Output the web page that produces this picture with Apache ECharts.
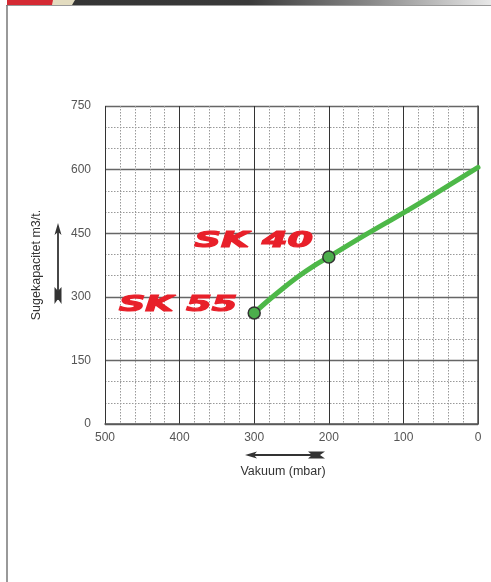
<!DOCTYPE html>
<html>
<head>
<meta charset="utf-8">
<script src="https://cdn.jsdelivr.net/npm/echarts@6/dist/echarts.min.js"></script>
<style>
html,body{margin:0;padding:0;background:#fff;}
#c{width:491px;height:582px;}
</style>
</head>
<body>
<div id="c"></div>
<script>
// Data
var vacuum   = [300, 280, 260, 240, 220, 200, 150, 100, 50, 0];
var capacity = [262, 293, 322, 349, 373, 394, 447, 498, 551, 605];
var markedVacuum = [300, 200];
var markedNames  = ['SK 55', 'SK 40'];
var xTicks = [0, 100, 200, 300, 400, 500];
var yTicks = [0, 150, 300, 450, 600, 750];
var xTitle = 'Vakuum (mbar)';
var yTitle = 'Sugekapacitet m3/t.';

var chart = echarts.init(document.getElementById('c'), null, {renderer: 'canvas'});

var lineData = vacuum.map(function (v, i) {
  var marked = markedVacuum.indexOf(v) >= 0;
  return {value: [v, capacity[i]], symbolSize: marked ? 12 : 0,
          itemStyle: marked ? {color: '#4cae4c', borderColor: '#333', borderWidth: 1.5} : undefined};
});

var axisLabelStyle = {color: '#555', fontSize: 12, fontFamily: 'Liberation Sans'};

var option = {
  animation: false,
  backgroundColor: '#fff',
  grid: {left: 105, right: 13, top: 106, bottom: 158},
  xAxis: {
    type: 'value', inverse: true, min: xTicks[0], max: xTicks[xTicks.length - 1], interval: 100,
    name: xTitle, nameLocation: 'middle', nameGap: 41,
    nameTextStyle: {color: '#333', fontSize: 12.5, fontFamily: 'Liberation Sans', padding: [0, 17, 0, 0]},
    axisLine: {show: true, lineStyle: {color: '#555', width: 1.5}},
    axisTick: {show: false},
    axisLabel: Object.assign({margin: 8}, axisLabelStyle),
    splitLine: {show: true, lineStyle: {color: '#333', width: 1}},
    minorTick: {show: false, splitNumber: 5},
    minorSplitLine: {show: true, lineStyle: {color: '#999', type: [1.5, 1.5], width: 1}}
  },
  yAxis: {
    type: 'value', min: yTicks[0], max: yTicks[yTicks.length - 1], interval: 150,
    name: yTitle, nameLocation: 'middle', nameGap: 62, nameRotate: 90,
    nameTextStyle: {color: '#333', fontSize: 12.5, fontFamily: 'Liberation Sans'},
    axisLine: {show: true, lineStyle: {color: '#555', width: 1.5}},
    axisTick: {show: false},
    axisLabel: Object.assign({margin: 14}, axisLabelStyle),
    splitLine: {show: true, lineStyle: {color: '#666', width: 1.3}},
    minorTick: {show: false, splitNumber: 3},
    minorSplitLine: {show: true, lineStyle: {color: '#999', type: [1.5, 1.5], width: 1}}
  },
  series: [{
    type: 'line',
    data: lineData,
    smooth: 0.4,
    symbol: 'circle',
    showAllSymbol: true,
    lineStyle: {color: '#4db848', width: 5, cap: 'round'},
    itemStyle: {color: '#4cae4c'},
    z: 5
  }]
};
chart.setOption(option);

function arrowGraphics() {
  var col = '#333';
  return [
    // vertical arrow (up)
    {type: 'line', shape: {x1: 58, y1: 230, x2: 58, y2: 300}, style: {stroke: col, lineWidth: 1.8}},
    {type: 'polygon', shape: {points: [[58, 223], [61.5, 235], [58, 232], [54.5, 235]]}, style: {fill: col}},
    {type: 'polygon', shape: {points: [[54.5, 287], [58, 291], [61.5, 287], [61.5, 304], [58, 299], [54.5, 304]]}, style: {fill: col}},
    // horizontal arrow (left)
    {type: 'line', shape: {x1: 250, y1: 455, x2: 320, y2: 455}, style: {stroke: col, lineWidth: 1.8}},
    {type: 'polygon', shape: {points: [[245, 455], [257, 451.5], [254, 455], [257, 458.5]]}, style: {fill: col}},
    {type: 'polygon', shape: {points: [[308, 451.5], [325, 451.5], [320, 455], [325, 458.5], [308, 458.5], [312, 455]]}, style: {fill: col}}
  ];
}

function frameGraphics() {
  return [
    {type: 'rect', shape: {x: 7, y: 0, width: 484, height: 5},
     style: {fill: new echarts.graphic.LinearGradient(0, 0, 1, 0, [
       {offset: 0, color: '#333'}, {offset: 0.5, color: '#3a3a3a'}, {offset: 0.75, color: '#888'}, {offset: 1, color: '#e8e8e8'}])}},
    {type: 'rect', shape: {x: 7, y: 0, width: 46, height: 5}, style: {fill: '#d42a33'}},
    {type: 'polygon', shape: {points: [[53, 0], [75, 0], [72, 5], [52, 5]]}, style: {fill: '#e3dcc0'}},
    {type: 'line', shape: {x1: 6, y1: 5.5, x2: 491, y2: 5.5}, style: {stroke: '#999', lineWidth: 1}},
    {type: 'line', shape: {x1: 7, y1: 5, x2: 7, y2: 582}, style: {stroke: '#777', lineWidth: 1.5}}
  ];
}

function labelGraphics() {
  var out = [];
  var offsets = {'SK 55': [-17, -7], 'SK 40': [-16, -15]};
  markedVacuum.forEach(function (v, k) {
    var idx = vacuum.indexOf(v);
    var p = chart.convertToPixel({gridIndex: 0}, [v, capacity[idx]]);
    var o = offsets[markedNames[k]];
    out.push({
      type: 'text', x: p[0] + o[0], y: p[1] + o[1], scaleX: 1.74, scaleY: 1, z: 10,
      style: {text: markedNames[k], fill: '#e8202a', stroke: '#e8202a', lineWidth: 1.2,
              font: 'italic bold 21px "DejaVu Sans"', align: 'right', verticalAlign: 'middle'}
    });
  });
  return out;
}

chart.setOption({graphic: frameGraphics().concat(arrowGraphics(), labelGraphics())});
</script>
</body>
</html>
